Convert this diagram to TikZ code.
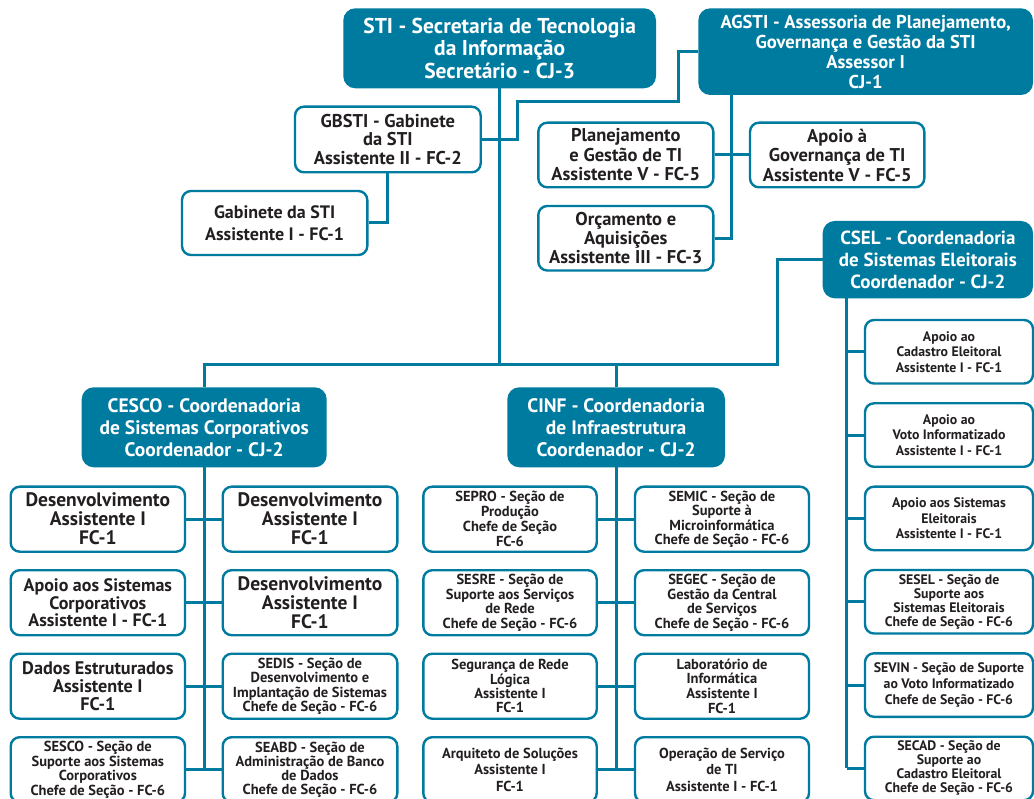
\documentclass[tikz,border=0pt]{standalone}
\usepackage{fontspec}
\setmainfont{PT Sans}
\usetikzlibrary{backgrounds}
\definecolor{orgteal}{RGB}{0,123,160}
\definecolor{orgtext}{RGB}{35,31,32}
\newcommand\fsz[2]{\fontsize{#1}{#2}\selectfont}
% box from its corners (x1,y1)-(x2,y2), y downwards, in pt
\newcommand\orgbox[9]{%
  \pgfmathsetmacro\obw{#4-#2}%
  \pgfmathsetmacro\obh{#5-#3}%
  \pgfmathsetmacro\obx{(#2+#4)/2}%
  \pgfmathsetmacro\oby{(#3+#5)/2}%
  \node[#6, minimum width=\obw pt, minimum height=\obh pt,
        font=\bfseries\fsz{#7}{#8}] (#1) at (\obx,\oby) {#9};}
\tikzset{
  headbox/.style={fill=orgteal, text=white, rounded corners=12pt,
                  inner sep=0pt, align=center},
  unitbox/.style={draw=orgteal, line width=2.4pt, fill=white, text=orgtext,
                  rounded corners=9pt, inner sep=0pt, align=center},
  link/.style={draw=orgteal, line width=3pt, line join=miter},
}
\begin{document}
\begin{tikzpicture}[x=1pt,y=-1pt]
\useasboundingbox (0,0) rectangle (1034,799);
\clip (0,0) rectangle (1034,799);

% ---- top level
\orgbox{sti}{343.3}{8.3}{656}{88.3}{headbox}{21.5}{22.5}{STI - Secretaria de Tecnologia\\da Informação\\Secretário - CJ-3}
\orgbox{agsti}{698.3}{8.3}{1033}{95}{headbox}{18.6}{20}{AGSTI - Assessoria de Planejamento,\\Governança e Gestão da STI\\Assessor I\\CJ-1}
\orgbox{gbsti}{295}{106.7}{480.7}{172.3}{unitbox}{18.5}{18.5}{GBSTI - Gabinete\\da STI\\Assistente II - FC-2}
\orgbox{gab}{182}{191}{367.3}{255}{unitbox}{18}{22}{Gabinete da STI\\Assistente I - FC-1}
\orgbox{plan}{538.3}{122.7}{713.3}{187.3}{unitbox}{18.5}{19.5}{Planejamento\\e Gestão de TI\\Assistente V - FC-5}
\orgbox{gov}{750}{122.7}{924.3}{187.3}{unitbox}{18.5}{19.5}{Apoio à\\Governança de TI\\Assistente V - FC-5}
\orgbox{orc}{538.3}{206}{713.3}{270.5}{unitbox}{18.5}{19}{Orçamento e\\Aquisições\\Assistente III - FC-3}

% ---- coordinations
\orgbox{csel}{822.7}{221}{1033}{298.3}{headbox}{19}{22}{CSEL - Coordenadoria\\de Sistemas Eleitorais\\Coordenador - CJ-2}
\orgbox{cesco}{81.7}{387.3}{326.7}{467.3}{headbox}{19.5}{22}{CESCO - Coordenadoria\\de Sistemas Corporativos\\Coordenador - CJ-2}
\orgbox{cinf}{507.3}{387.3}{725}{467.3}{headbox}{19.5}{22}{CINF - Coordenadoria\\de Infraestrutura\\Coordenador - CJ-2}

% ---- CESCO units
\orgbox{a1}{10.7}{486.7}{185}{551.7}{unitbox}{19.5}{19}{Desenvolvimento\\Assistente I\\FC-1}
\orgbox{b1}{222.7}{486.7}{397.3}{551.7}{unitbox}{19.5}{19}{Desenvolvimento\\Assistente I\\FC-1}
\orgbox{a2}{10.7}{570.2}{185}{635.2}{unitbox}{18}{17.5}{Apoio aos Sistemas\\Corporativos\\Assistente I - FC-1}
\orgbox{b2}{222.7}{570.2}{397.3}{635.2}{unitbox}{19.5}{19}{Desenvolvimento\\Assistente I\\FC-1}
\orgbox{a3}{10.7}{653.7}{185}{718.7}{unitbox}{18.2}{18.3}{Dados Estruturados\\Assistente I\\FC-1}
\orgbox{b3}{222.7}{653.7}{397.3}{718.7}{unitbox}{14.5}{14.5}{SEDIS - Seção de\\Desenvolvimento e\\Implantação de Sistemas\\Chefe de Seção - FC-6}
\orgbox{a4}{10.7}{737.2}{185}{802.2}{unitbox}{14.5}{14.5}{SESCO - Seção de\\Suporte aos Sistemas\\Corporativos\\Chefe de Seção - FC-6}
\orgbox{b4}{222.7}{737.2}{397.3}{802.2}{unitbox}{14.5}{14}{SEABD - Seção de\\Administração de Banco\\de Dados\\Chefe de Seção - FC-6}

% ---- CINF units
\orgbox{c1}{423.3}{486.7}{596.7}{551.7}{unitbox}{14.5}{15}{SEPRO - Seção de\\Produção\\Chefe de Seção\\FC-6}
\orgbox{d1}{635}{486.7}{809}{551.7}{unitbox}{14.5}{14.3}{SEMIC - Seção de\\Suporte à\\Microinformática\\Chefe de Seção - FC-6}
\orgbox{c2}{423.3}{570.2}{596.7}{635.2}{unitbox}{14.5}{14.4}{SESRE - Seção de\\Suporte aos Serviços\\de Rede\\Chefe de Seção - FC-6}
\orgbox{d2}{635}{570.2}{809}{635.2}{unitbox}{14.5}{14.8}{SEGEC - Seção de\\Gestão da Central\\de Serviços\\Chefe de Seção - FC-6}
\orgbox{c3}{423.3}{653.7}{596.7}{718.7}{unitbox}{14.5}{14.3}{Segurança de Rede\\Lógica\\Assistente I\\FC-1}
\orgbox{d3}{635}{653.7}{809}{718.7}{unitbox}{14.5}{14.7}{Laboratório de\\Informática\\Assistente I\\FC-1}
\orgbox{c4}{423.3}{737.2}{596.7}{802.2}{unitbox}{14.5}{16.5}{Arquiteto de Soluções\\Assistente I\\FC-1}
\orgbox{d4}{635}{737.2}{809}{802.2}{unitbox}{14.5}{16.5}{Operação de Serviço\\de TI\\Assistente I - FC-1}

% ---- CSEL units
\orgbox{e1}{865}{320}{1033}{383.5}{unitbox}{13.8}{15.5}{Apoio ao\\Cadastro Eleitoral\\Assistente I - FC-1}
\orgbox{e2}{865}{403.3}{1033}{466.8}{unitbox}{13.8}{15.5}{Apoio ao\\Voto Informatizado\\Assistente I - FC-1}
\orgbox{e3}{865}{486.7}{1033}{550.2}{unitbox}{13.8}{15.5}{Apoio aos Sistemas\\Eleitorais\\Assistente I - FC-1}
\orgbox{e4}{865}{570}{1033}{633.5}{unitbox}{13.8}{14}{SESEL - Seção de\\Suporte aos\\Sistemas Eleitorais\\Chefe de Seção - FC-6}
\orgbox{e5}{865}{653.3}{1033}{716.8}{unitbox}{13.8}{15.8}{SEVIN - Seção de Suporte\\ao Voto Informatizado\\Chefe de Seção - FC-6}
\orgbox{e6}{865}{736.7}{1033}{800.2}{unitbox}{13.8}{14}{SECAD - Seção de\\Suporte ao\\Cadastro Eleitoral\\Chefe de Seção - FC-6}

% ---- bend points
\coordinate (busL) at (204.2,365);
\coordinate (busR) at (777,365);
\coordinate (gb1) at (517.7,101.7);
\coordinate (gb2) at (678.3,101.7);
\coordinate (agx) at (731.7,0);
\coordinate (csx) at (846.7,0);

\begin{pgfonlayer}{background}
  % main bus
  \draw[link] (sti.south) -- (sti.south |- busL);
  \draw[link] (cesco.north) -- (busL) -- (busR) -- (busR |- csel.west) -- (csel.west);
  \draw[link] (cinf.north) -- (cinf.north |- busL);
  % cabinet and advisory office
  \draw[link] (gbsti.east) -- (gbsti.east -| gb1) -- (gb1) -- (gb2) -- (gb2 |- agsti.west) -- (agsti.west);
  \draw[link] (gbsti.south) -- (gbsti.south |- gab.east) -- (gab.east);
  \draw[link] (agsti.south -| agx) -- (orc.east -| agx) -- (orc.east);
  \draw[link] (plan.east) -- (gov.west);
  % CESCO
  \draw[link] (cesco.south) -- (cesco.south |- a4.east);
  \foreach \r in {1,2,3,4} \draw[link] (a\r.east) -- (b\r.west);
  % CINF
  \draw[link] (cinf.south) -- (cinf.south |- c4.east);
  \foreach \r in {1,2,3,4} \draw[link] (c\r.east) -- (d\r.west);
  % CSEL
  \draw[link] (csel.south -| csx) -- (csx |- e6.west);
  \foreach \r in {1,...,6} \draw[link] (csx |- e\r.west) -- (e\r.west);
\end{pgfonlayer}
\end{tikzpicture}
\end{document}
